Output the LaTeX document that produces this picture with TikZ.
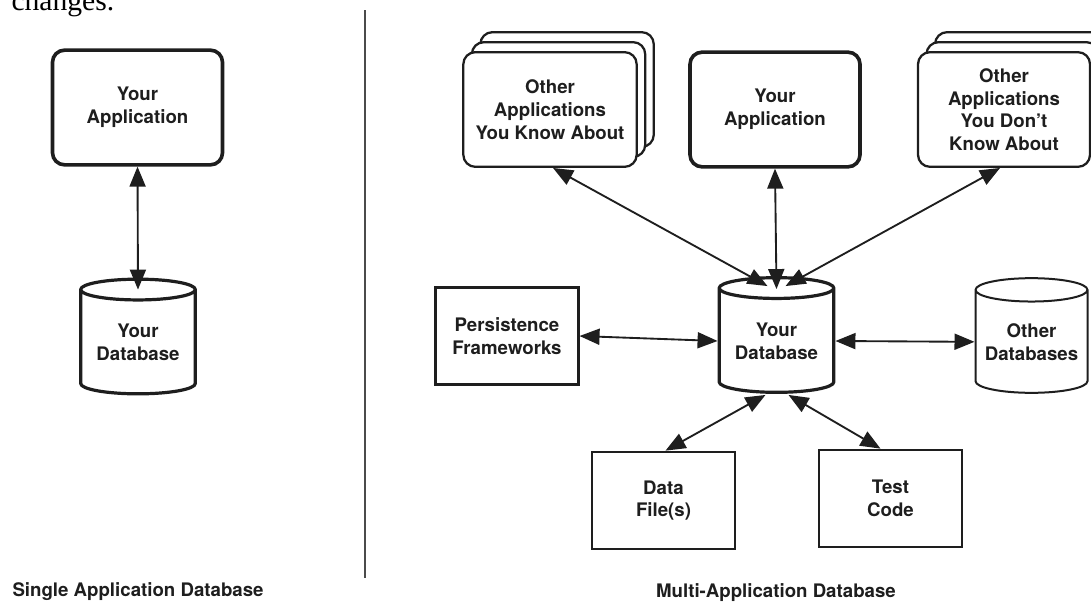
\documentclass[tikz,border=0pt]{standalone}
\usepackage{fontspec}
\setsansfont{TeX Gyre Heros}
\newfontfamily\pageserif{Liberation Serif}
\usepackage{tikz}
\usetikzlibrary{arrows.meta, shapes.geometric, shadows, calc}
\definecolor{ink}{RGB}{30,30,30}
\tikzset{every picture/.style={line width=0.75pt}}
\tikzset{
	lbl/.style={font=\sffamily\bfseries\fontsize{14}{17}\selectfont, text=ink, align=center, inner sep=0pt},
	appbox/.style={lbl, draw=ink, fill=white, rounded corners=9pt, line width=2.7pt, minimum width=127.5pt, minimum height=86pt},
	stackbox/.style={lbl, draw=ink, fill=white, rounded corners=9pt, line width=1.7pt, minimum width=130pt, minimum height=86pt, double copy shadow={shadow xshift=6.4pt, shadow yshift=7.5pt}},
	plainbox/.style={lbl, draw=ink, fill=white, line width=1.8pt, minimum width=107pt, minimum height=73pt},
	dbcyl/.style={lbl, cylinder, shape border rotate=90, aspect=0.25, draw=ink, fill=white, line width=1.5pt, minimum width=86pt, minimum height=86pt, anchor=shape center},
	twoway/.style={{Triangle[length=15pt,width=12pt]}-{Triangle[length=15pt,width=12pt]}, draw=ink, line width=1.4pt}
}

\begin{document}
\begin{tikzpicture}[x=0.75pt,y=0.75pt,yscale=-1,xscale=1]
	\clip (0,0) rectangle (1091,603);
	% page text above the figure
	\node [anchor=base west, inner sep=0pt, font=\pageserif\fontsize{22.2}{22}\selectfont] (pagetext) at (11,10.5) {changes.};
	%Divider
	\draw [draw=ink!80, line width=1.5pt] (365,10) -- (365,578) ;

	% ---- single application ----
	\node [appbox] (leftapp) at (137.5,107.5) {Your\\Application};
	\node [dbcyl, line width=2.4pt] (leftdb) at (138,336.5) {Your\\Database};
	\draw [twoway] (leftapp.south) -- ($(leftdb.north)+(0,12)$) ;
	% Text Node
	\node [lbl, anchor=west] (singlelbl) at (12,592) {Single Application Database};

	% ---- multi application ----
	\node [stackbox] (knownapps) at (550,109.5) {Other\\Applications\\You Know About};
	\node [appbox] (yourapp) at (775,109.5) {Your\\Application};
	\node [stackbox, minimum width=129pt] (unknownapps) at (1004,109.5) {Other\\Applications\\You Don't\\Know About};
	\node [dbcyl, line width=2.4pt] (yourdb) at (776.5,335) {Your\\Database};
	\node [plainbox] (persist) at (507,336) {Persistence\\Frameworks};
	\node [dbcyl, minimum width=84pt] (otherdb) at (1031.5,335.5) {Other\\Databases};
	\node [plainbox] (datafiles) at (663.5,500.5) {Data\\File(s)};
	\node [plainbox] (testcode) at (890.5,498.5) {Test\\Code};

	\draw [twoway] ($(knownapps.south)+(3,0)$) -- ($(yourdb.north)+(-9,10)$) ;
	\draw [twoway] (yourapp.south) -- ($(yourdb.north)+(0,13)$) ;
	\draw [twoway] ($(unknownapps.south)+(-4,0)$) -- ($(yourdb.north)+(9,10)$) ;
	\draw [twoway] (persist.east) -- (yourdb.west) ;
	\draw [twoway] (yourdb.east) -- (otherdb.west) ;
	\draw [twoway] ($(yourdb.south)+(-11,1)$) -- ($(datafiles.north)+(2,0)$) ;
	\draw [twoway] ($(yourdb.south)+(12,1)$) -- ($(testcode.north)+(-10,0)$) ;
	% Text Node
	\node [lbl] (multilbl) at (776,593) {Multi-Application Database};
\end{tikzpicture}
\end{document}
